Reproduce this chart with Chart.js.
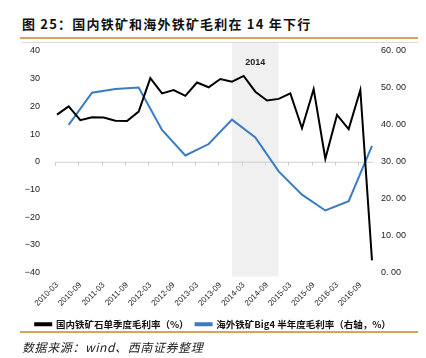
<!DOCTYPE html>
<html><head><meta charset="utf-8">
<script src="https://cdn.jsdelivr.net/npm/chart.js@4/dist/chart.umd.min.js"></script>
<style>
html,body{margin:0;padding:0;background:#fff;}
#wrap{position:relative;width:426px;height:358px;overflow:hidden;font-family:"Liberation Sans",Arial,sans-serif;}
#title{position:absolute;left:22px;top:14px;font:bold 13px "Noto Sans CJK SC",sans-serif;color:#111;letter-spacing:1.2px;white-space:nowrap;}
.oline{position:absolute;left:20px;width:398px;height:2px;background:#d8a45c;}
#gline{position:absolute;left:22px;width:396px;top:42px;height:1px;background:#d9d9d9;}
#src{position:absolute;left:22px;top:338px;font:italic 12px "Noto Sans CJK SC",sans-serif;color:#222;white-space:nowrap;letter-spacing:0.6px;}
canvas{position:absolute;left:0;top:0;}
</style></head>
<body><div id="wrap">
<div id="title">图 25：国内铁矿和海外铁矿毛利在 14 年下行</div>
<div class="oline" style="top:37px"></div>
<div id="gline"></div>
<canvas id="c" width="426" height="358"></canvas>
<div class="oline" style="top:331px"></div>
<div id="src">数据来源：wind、西南证券整理</div>
</div>
<script>
const quarters = ["2010-03","2010-06","2010-09","2010-12","2011-03","2011-06","2011-09","2011-12",
"2012-03","2012-06","2012-09","2012-12","2013-03","2013-06","2013-09","2013-12",
"2014-03","2014-06","2014-09","2014-12","2015-03","2015-06","2015-09","2015-12",
"2016-03","2016-06","2016-09","2016-12"];
const domesticMargin = [17.0,20.0,15.0,16.1,16.0,14.8,14.7,18.1,30.2,24.7,25.9,23.8,28.6,26.9,29.9,28.9,
31.0,25.3,22.1,22.7,24.7,12.1,26.2,1.1,16.9,11.8,25.9,-35.6];
const halfYears = ["2010-06","2010-12","2011-06","2011-12","2012-06","2012-12","2013-06","2013-12",
"2014-06","2014-12","2015-06","2015-12","2016-06","2016-12"];
const big4Margin = [40.0,48.7,49.7,50.1,38.6,31.7,34.8,41.4,36.6,27.4,21.1,16.8,19.3,34.3];
const leftTicks = [40,30,20,10,0,-10,-20,-30,-40];
const rightTicks = [60,50,40,30,20,10,0];
const shadeFrom = "2013-12", shadeTo = "2014-12", shadeLabel = "2014";
const seriesNames = ["国内铁矿石单季度毛利率（%）","海外铁矿Big4 半年度毛利率（右轴，%）"];

const big4Points = halfYears.map((d,i)=>({x:d,y:big4Margin[i]}));

const shadePlugin = {
  id:'shade',
  beforeDatasetsDraw(chart){
    const {ctx, chartArea, scales} = chart;
    const x1 = scales.x.getPixelForValue(quarters.indexOf(shadeFrom));
    const x2 = scales.x.getPixelForValue(quarters.indexOf(shadeTo));
    ctx.save();
    ctx.fillStyle = '#f0f0f0';
    ctx.fillRect(x1, chartArea.top-8, x2-x1, chartArea.bottom-chartArea.top+12);
    ctx.fillStyle = '#222';
    ctx.font = 'bold 9px "Liberation Sans", Arial';
    ctx.textAlign = 'center';
    ctx.fillText(shadeLabel, (x1+x2)/2, chartArea.top+12);
    const y0 = scales.y.getPixelForValue(0);
    ctx.strokeStyle = '#d0d0d0';
    ctx.lineWidth = 1;
    ctx.beginPath();
    ctx.moveTo(chartArea.left-2, y0+0.5); ctx.lineTo(chartArea.right+1, y0+0.5);
    for(let i=0;i<quarters.length;i+=2){
      const x = Math.round(scales.x.getPixelForValue(i)-2)+0.5;
      ctx.moveTo(x, y0); ctx.lineTo(x, y0+4);
    }
    ctx.stroke();
    ctx.restore();
  }
};

const fontSans = '"Liberation Sans", Arial, sans-serif';
new Chart(document.getElementById('c'), {
  type:'line',
  data:{
    labels:quarters,
    datasets:[
      {label:seriesNames[0], data:domesticMargin, borderColor:'#000', backgroundColor:'#000', borderWidth:2, pointRadius:0, tension:0, yAxisID:'y'},
      {label:seriesNames[1], data:big4Points, borderColor:'#3a7cc4', backgroundColor:'#3a7cc4', borderWidth:2, pointRadius:0, tension:0, yAxisID:'y1'}
    ]
  },
  options:{
    responsive:false, animation:false,
    layout:{padding:{left:0,right:0,top:51,bottom:19}},
    plugins:{
      legend:{position:'bottom', labels:{boxWidth:16, boxHeight:2, padding:7, color:'#111',
        font:{size:9.5, family:'"Noto Sans CJK SC", sans-serif', weight:'bold'}}},
      tooltip:{enabled:false}
    },
    scales:{
      x:{type:'category', offset:false,
        grid:{display:false}, border:{display:false},
        ticks:{autoSkip:false, maxRotation:45, minRotation:45, padding:0, color:'#222',
          font:{size:8, family:fontSans},
          callback:(v,i)=> i%2===0 ? quarters[i] : null},
        afterFit:s=>{s.height=40;}
      },
      y:{position:'left', min:-40, max:40,
        afterBuildTicks:s=>{s.ticks=leftTicks.map(v=>({value:v}));},
        grid:{display:false}, border:{display:false},
        ticks:{color:'#222', font:{size:9, family:fontSans}, padding:9,
          callback:v=> v<0 ? '\u2212'+Math.abs(v) : String(v)},
        afterFit:s=>{s.width=57;}
      },
      y1:{position:'right', min:0, max:60,
        afterBuildTicks:s=>{s.ticks=rightTicks.map(v=>({value:v}));},
        grid:{display:false}, border:{display:false},
        ticks:{color:'#222', font:{size:9, family:fontSans}, padding:1,
          callback:v=> v.toFixed(2).replace('.', '. ')},
        afterFit:s=>{s.width=54;}
      }
    }
  },
  plugins:[shadePlugin]
});
</script>
</body></html>
